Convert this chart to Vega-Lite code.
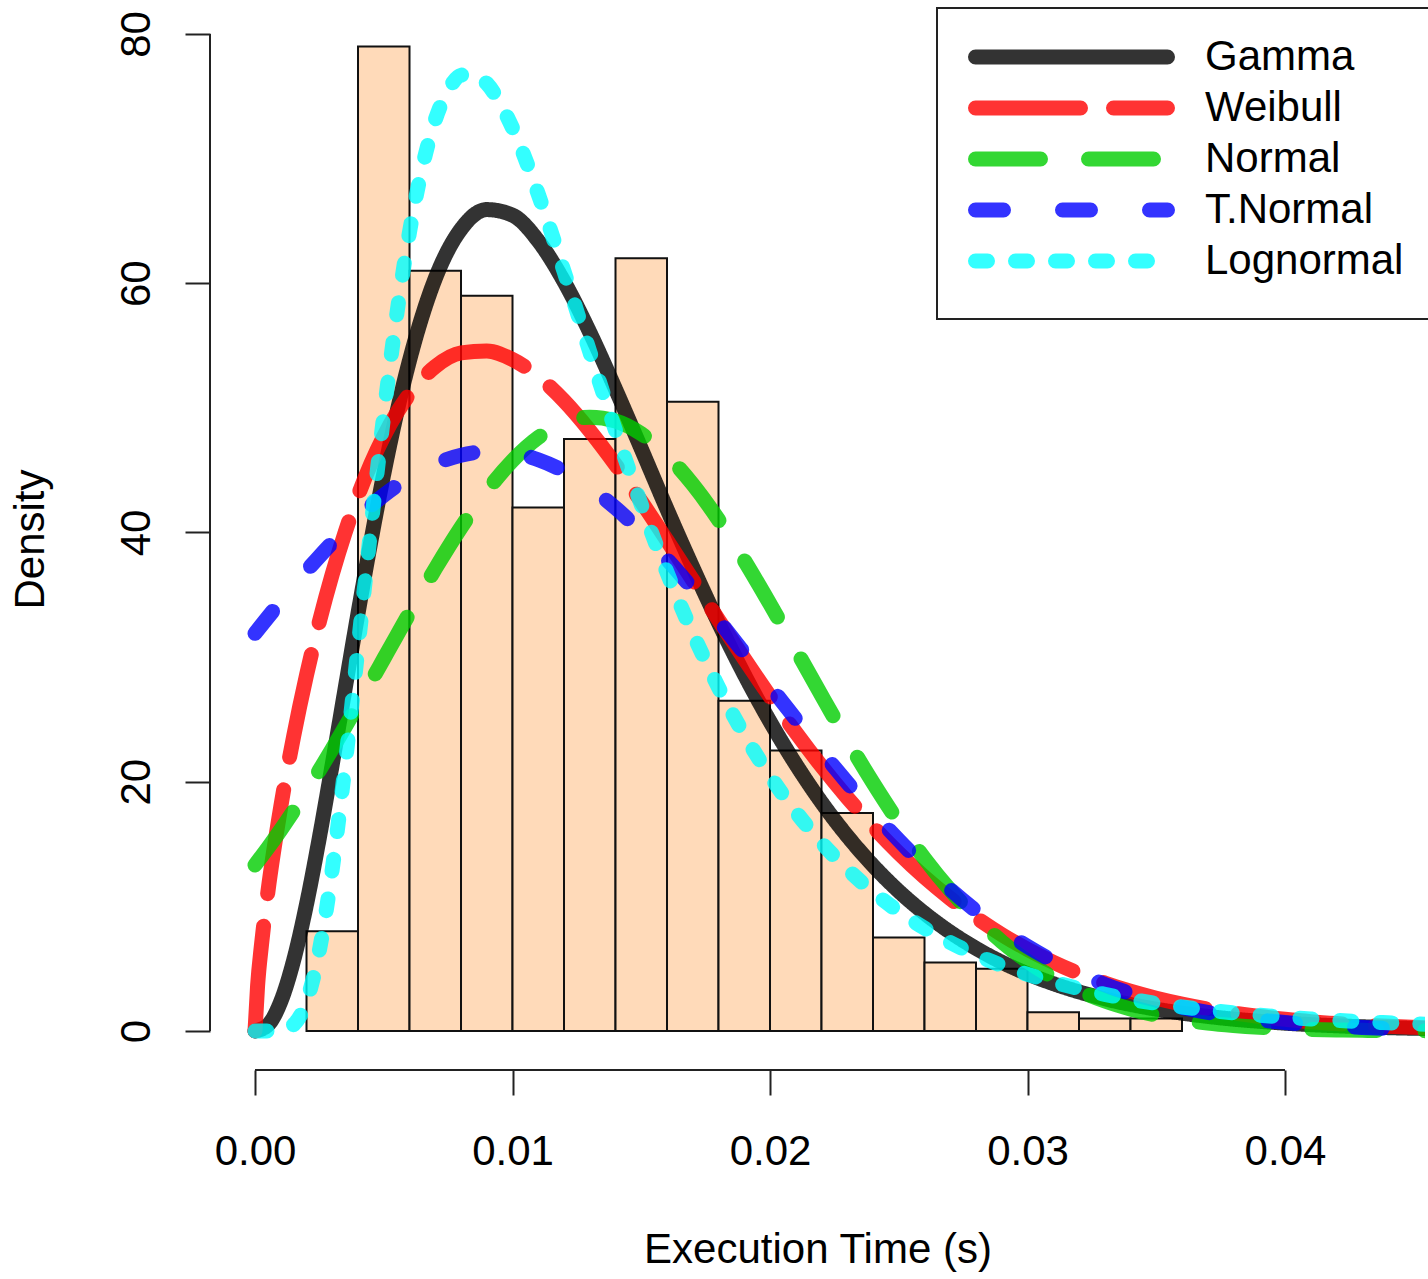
{
  "$schema": "https://vega.github.io/schema/vega-lite/v6.json",
  "width": 1215,
  "height": 1063,
  "autosize": {"type": "none"},
  "padding": {"left": 210, "top": 7, "right": 3, "bottom": 209},
  "background": "#ffffff",
  "config": {
    "view": {"stroke": null},
    "font": "Liberation Sans",
    "axis": {"grid": false, "domain": false, "ticks": true, "tickColor": "#222222", "tickWidth": 2, "tickSize": 25, "labelColor": "#000000", "titleColor": "#000000", "labelFontSize": 42, "titleFontSize": 42, "labelFont": "Liberation Sans", "titleFont": "Liberation Sans", "titleFontWeight": "normal", "labelFlush": false, "labelOverlap": false, "labelBound": false},
    "axisX": {"labelPadding": 69, "labelBaseline": "alphabetic", "labelAlign": "center", "labelAngle": 0, "titleY": 192, "titleBaseline": "alphabetic"},
    "axisY": {"labelAngle": 270, "labelAlign": "center", "labelBaseline": "alphabetic", "labelPadding": 36, "titleAngle": 270, "titleX": -167, "titleY": 532, "titleAlign": "center", "titleBaseline": "alphabetic"}
  },
  "datasets": {
    "hist": [
      {"start": 0.002, "end": 0.004, "density": 8},
      {"start": 0.004, "end": 0.006, "density": 79},
      {"start": 0.006, "end": 0.008, "density": 61},
      {"start": 0.008, "end": 0.010, "density": 59},
      {"start": 0.010, "end": 0.012, "density": 42},
      {"start": 0.012, "end": 0.014, "density": 47.5},
      {"start": 0.014, "end": 0.016, "density": 62},
      {"start": 0.016, "end": 0.018, "density": 50.5},
      {"start": 0.018, "end": 0.020, "density": 26.5},
      {"start": 0.020, "end": 0.022, "density": 22.5},
      {"start": 0.022, "end": 0.024, "density": 17.5},
      {"start": 0.024, "end": 0.026, "density": 7.5},
      {"start": 0.026, "end": 0.028, "density": 5.5},
      {"start": 0.028, "end": 0.030, "density": 5},
      {"start": 0.030, "end": 0.032, "density": 1.5},
      {"start": 0.032, "end": 0.034, "density": 1},
      {"start": 0.034, "end": 0.036, "density": 1}
    ],
    "fits": [
      {"d": "Gamma", "x": 0, "density": 0},
      {"d": "Gamma", "x": 0.0005, "density": 0.48},
      {"d": "Gamma", "x": 0.001, "density": 2.36},
      {"d": "Gamma", "x": 0.0015, "density": 5.67},
      {"d": "Gamma", "x": 0.002, "density": 10.17},
      {"d": "Gamma", "x": 0.0025, "density": 15.53},
      {"d": "Gamma", "x": 0.003, "density": 21.4},
      {"d": "Gamma", "x": 0.0035, "density": 27.48},
      {"d": "Gamma", "x": 0.004, "density": 33.52},
      {"d": "Gamma", "x": 0.0045, "density": 39.3},
      {"d": "Gamma", "x": 0.005, "density": 44.7},
      {"d": "Gamma", "x": 0.0055, "density": 49.56},
      {"d": "Gamma", "x": 0.006, "density": 53.81},
      {"d": "Gamma", "x": 0.007, "density": 60.38},
      {"d": "Gamma", "x": 0.008, "density": 64.34},
      {"d": "Gamma", "x": 0.009, "density": 65.91},
      {"d": "Gamma", "x": 0.010, "density": 65.46},
      {"d": "Gamma", "x": 0.011, "density": 63.4},
      {"d": "Gamma", "x": 0.012, "density": 60.14},
      {"d": "Gamma", "x": 0.013, "density": 56.07},
      {"d": "Gamma", "x": 0.014, "density": 51.5},
      {"d": "Gamma", "x": 0.015, "density": 46.72},
      {"d": "Gamma", "x": 0.016, "density": 41.87},
      {"d": "Gamma", "x": 0.017, "density": 37.2},
      {"d": "Gamma", "x": 0.018, "density": 32.75},
      {"d": "Gamma", "x": 0.019, "density": 28.61},
      {"d": "Gamma", "x": 0.020, "density": 24.83},
      {"d": "Gamma", "x": 0.021, "density": 21.41},
      {"d": "Gamma", "x": 0.022, "density": 18.35},
      {"d": "Gamma", "x": 0.023, "density": 15.65},
      {"d": "Gamma", "x": 0.024, "density": 13.28},
      {"d": "Gamma", "x": 0.025, "density": 11.22},
      {"d": "Gamma", "x": 0.026, "density": 9.45},
      {"d": "Gamma", "x": 0.027, "density": 7.93},
      {"d": "Gamma", "x": 0.028, "density": 6.63},
      {"d": "Gamma", "x": 0.029, "density": 5.52},
      {"d": "Gamma", "x": 0.030, "density": 4.59},
      {"d": "Gamma", "x": 0.031, "density": 3.8},
      {"d": "Gamma", "x": 0.032, "density": 3.14},
      {"d": "Gamma", "x": 0.033, "density": 2.59},
      {"d": "Gamma", "x": 0.034, "density": 2.13},
      {"d": "Gamma", "x": 0.035, "density": 1.75},
      {"d": "Gamma", "x": 0.036, "density": 1.43},
      {"d": "Gamma", "x": 0.037, "density": 1.17},
      {"d": "Gamma", "x": 0.038, "density": 0.95},
      {"d": "Gamma", "x": 0.039, "density": 0.78},
      {"d": "Gamma", "x": 0.040, "density": 0.63},
      {"d": "Gamma", "x": 0.041, "density": 0.51},
      {"d": "Gamma", "x": 0.042, "density": 0.42},
      {"d": "Gamma", "x": 0.043, "density": 0.34},
      {"d": "Gamma", "x": 0.044, "density": 0.27},
      {"d": "Gamma", "x": 0.045, "density": 0.22},
      {"d": "Gamma", "x": 0.046, "density": 0.18},
      {"d": "Weibull", "x": 0, "density": 0},
      {"d": "Weibull", "x": 0.0001, "density": 3.63},
      {"d": "Weibull", "x": 0.00025, "density": 6.89},
      {"d": "Weibull", "x": 0.0005, "density": 11.16},
      {"d": "Weibull", "x": 0.001, "density": 17.99},
      {"d": "Weibull", "x": 0.0015, "density": 23.64},
      {"d": "Weibull", "x": 0.002, "density": 28.55},
      {"d": "Weibull", "x": 0.0025, "density": 32.85},
      {"d": "Weibull", "x": 0.003, "density": 36.66},
      {"d": "Weibull", "x": 0.0035, "density": 40.01},
      {"d": "Weibull", "x": 0.004, "density": 42.95},
      {"d": "Weibull", "x": 0.0045, "density": 45.52},
      {"d": "Weibull", "x": 0.005, "density": 47.72},
      {"d": "Weibull", "x": 0.0055, "density": 49.58},
      {"d": "Weibull", "x": 0.006, "density": 51.12},
      {"d": "Weibull", "x": 0.007, "density": 53.31},
      {"d": "Weibull", "x": 0.008, "density": 54.41},
      {"d": "Weibull", "x": 0.009, "density": 54.56},
      {"d": "Weibull", "x": 0.010, "density": 53.88},
      {"d": "Weibull", "x": 0.011, "density": 52.51},
      {"d": "Weibull", "x": 0.012, "density": 50.57},
      {"d": "Weibull", "x": 0.013, "density": 48.17},
      {"d": "Weibull", "x": 0.014, "density": 45.45},
      {"d": "Weibull", "x": 0.015, "density": 42.48},
      {"d": "Weibull", "x": 0.016, "density": 39.36},
      {"d": "Weibull", "x": 0.017, "density": 36.18},
      {"d": "Weibull", "x": 0.018, "density": 32.99},
      {"d": "Weibull", "x": 0.019, "density": 29.87},
      {"d": "Weibull", "x": 0.020, "density": 26.84},
      {"d": "Weibull", "x": 0.021, "density": 23.96},
      {"d": "Weibull", "x": 0.022, "density": 21.25},
      {"d": "Weibull", "x": 0.023, "density": 18.73},
      {"d": "Weibull", "x": 0.024, "density": 16.4},
      {"d": "Weibull", "x": 0.025, "density": 14.27},
      {"d": "Weibull", "x": 0.026, "density": 12.34},
      {"d": "Weibull", "x": 0.027, "density": 10.63},
      {"d": "Weibull", "x": 0.028, "density": 9.1},
      {"d": "Weibull", "x": 0.029, "density": 7.74},
      {"d": "Weibull", "x": 0.030, "density": 6.55},
      {"d": "Weibull", "x": 0.031, "density": 5.52},
      {"d": "Weibull", "x": 0.032, "density": 4.62},
      {"d": "Weibull", "x": 0.033, "density": 3.85},
      {"d": "Weibull", "x": 0.034, "density": 3.19},
      {"d": "Weibull", "x": 0.035, "density": 2.63},
      {"d": "Weibull", "x": 0.036, "density": 2.16},
      {"d": "Weibull", "x": 0.037, "density": 1.76},
      {"d": "Weibull", "x": 0.038, "density": 1.44},
      {"d": "Weibull", "x": 0.039, "density": 1.16},
      {"d": "Weibull", "x": 0.040, "density": 0.94},
      {"d": "Weibull", "x": 0.041, "density": 0.75},
      {"d": "Weibull", "x": 0.042, "density": 0.6},
      {"d": "Weibull", "x": 0.043, "density": 0.48},
      {"d": "Weibull", "x": 0.044, "density": 0.38},
      {"d": "Weibull", "x": 0.045, "density": 0.3},
      {"d": "Weibull", "x": 0.046, "density": 0.23},
      {"d": "Normal", "x": 0, "density": 13.32},
      {"d": "Normal", "x": 0.0005, "density": 14.69},
      {"d": "Normal", "x": 0.001, "density": 16.14},
      {"d": "Normal", "x": 0.0015, "density": 17.66},
      {"d": "Normal", "x": 0.002, "density": 19.26},
      {"d": "Normal", "x": 0.0025, "density": 20.92},
      {"d": "Normal", "x": 0.003, "density": 22.64},
      {"d": "Normal", "x": 0.0035, "density": 24.4},
      {"d": "Normal", "x": 0.004, "density": 26.2},
      {"d": "Normal", "x": 0.0045, "density": 28.03},
      {"d": "Normal", "x": 0.005, "density": 29.87},
      {"d": "Normal", "x": 0.0055, "density": 31.71},
      {"d": "Normal", "x": 0.006, "density": 33.54},
      {"d": "Normal", "x": 0.007, "density": 37.09},
      {"d": "Normal", "x": 0.008, "density": 40.4},
      {"d": "Normal", "x": 0.009, "density": 43.33},
      {"d": "Normal", "x": 0.010, "density": 45.77},
      {"d": "Normal", "x": 0.011, "density": 47.62},
      {"d": "Normal", "x": 0.012, "density": 48.8},
      {"d": "Normal", "x": 0.013, "density": 49.25},
      {"d": "Normal", "x": 0.014, "density": 48.95},
      {"d": "Normal", "x": 0.015, "density": 47.92},
      {"d": "Normal", "x": 0.016, "density": 46.19},
      {"d": "Normal", "x": 0.017, "density": 43.86},
      {"d": "Normal", "x": 0.018, "density": 41.02},
      {"d": "Normal", "x": 0.019, "density": 37.77},
      {"d": "Normal", "x": 0.020, "density": 34.26},
      {"d": "Normal", "x": 0.021, "density": 30.61},
      {"d": "Normal", "x": 0.022, "density": 26.93},
      {"d": "Normal", "x": 0.023, "density": 23.33},
      {"d": "Normal", "x": 0.024, "density": 19.92},
      {"d": "Normal", "x": 0.025, "density": 16.74},
      {"d": "Normal", "x": 0.026, "density": 13.85},
      {"d": "Normal", "x": 0.027, "density": 11.3},
      {"d": "Normal", "x": 0.028, "density": 9.07},
      {"d": "Normal", "x": 0.029, "density": 7.17},
      {"d": "Normal", "x": 0.030, "density": 5.59},
      {"d": "Normal", "x": 0.031, "density": 4.28},
      {"d": "Normal", "x": 0.032, "density": 3.24},
      {"d": "Normal", "x": 0.033, "density": 2.41},
      {"d": "Normal", "x": 0.034, "density": 1.77},
      {"d": "Normal", "x": 0.035, "density": 1.27},
      {"d": "Normal", "x": 0.036, "density": 0.91},
      {"d": "Normal", "x": 0.037, "density": 0.63},
      {"d": "Normal", "x": 0.038, "density": 0.44},
      {"d": "Normal", "x": 0.039, "density": 0.3},
      {"d": "Normal", "x": 0.040, "density": 0.2},
      {"d": "Normal", "x": 0.041, "density": 0.13},
      {"d": "Normal", "x": 0.042, "density": 0.085},
      {"d": "Normal", "x": 0.043, "density": 0.054},
      {"d": "Normal", "x": 0.044, "density": 0.034},
      {"d": "Normal", "x": 0.045, "density": 0.021},
      {"d": "Normal", "x": 0.046, "density": 0.013},
      {"d": "T.Normal", "x": 0, "density": 31.91},
      {"d": "T.Normal", "x": 0.0005, "density": 33.2},
      {"d": "T.Normal", "x": 0.001, "density": 34.48},
      {"d": "T.Normal", "x": 0.0015, "density": 35.72},
      {"d": "T.Normal", "x": 0.002, "density": 36.92},
      {"d": "T.Normal", "x": 0.0025, "density": 38.08},
      {"d": "T.Normal", "x": 0.003, "density": 39.19},
      {"d": "T.Normal", "x": 0.0035, "density": 40.24},
      {"d": "T.Normal", "x": 0.004, "density": 41.23},
      {"d": "T.Normal", "x": 0.0045, "density": 42.15},
      {"d": "T.Normal", "x": 0.005, "density": 42.99},
      {"d": "T.Normal", "x": 0.0055, "density": 43.75},
      {"d": "T.Normal", "x": 0.006, "density": 44.43},
      {"d": "T.Normal", "x": 0.007, "density": 45.51},
      {"d": "T.Normal", "x": 0.008, "density": 46.2},
      {"d": "T.Normal", "x": 0.009, "density": 46.49},
      {"d": "T.Normal", "x": 0.010, "density": 46.37},
      {"d": "T.Normal", "x": 0.011, "density": 45.84},
      {"d": "T.Normal", "x": 0.012, "density": 44.91},
      {"d": "T.Normal", "x": 0.013, "density": 43.61},
      {"d": "T.Normal", "x": 0.014, "density": 41.97},
      {"d": "T.Normal", "x": 0.015, "density": 40.04},
      {"d": "T.Normal", "x": 0.016, "density": 37.85},
      {"d": "T.Normal", "x": 0.017, "density": 35.47},
      {"d": "T.Normal", "x": 0.018, "density": 32.95},
      {"d": "T.Normal", "x": 0.019, "density": 30.33},
      {"d": "T.Normal", "x": 0.020, "density": 27.67},
      {"d": "T.Normal", "x": 0.021, "density": 25.03},
      {"d": "T.Normal", "x": 0.022, "density": 22.43},
      {"d": "T.Normal", "x": 0.023, "density": 19.93},
      {"d": "T.Normal", "x": 0.024, "density": 17.54},
      {"d": "T.Normal", "x": 0.025, "density": 15.31},
      {"d": "T.Normal", "x": 0.026, "density": 13.24},
      {"d": "T.Normal", "x": 0.027, "density": 11.36},
      {"d": "T.Normal", "x": 0.028, "density": 9.65},
      {"d": "T.Normal", "x": 0.029, "density": 8.12},
      {"d": "T.Normal", "x": 0.030, "density": 6.78},
      {"d": "T.Normal", "x": 0.031, "density": 5.61},
      {"d": "T.Normal", "x": 0.032, "density": 4.6},
      {"d": "T.Normal", "x": 0.033, "density": 3.74},
      {"d": "T.Normal", "x": 0.034, "density": 3.01},
      {"d": "T.Normal", "x": 0.035, "density": 2.4},
      {"d": "T.Normal", "x": 0.036, "density": 1.9},
      {"d": "T.Normal", "x": 0.037, "density": 1.49},
      {"d": "T.Normal", "x": 0.038, "density": 1.16},
      {"d": "T.Normal", "x": 0.039, "density": 0.89},
      {"d": "T.Normal", "x": 0.040, "density": 0.68},
      {"d": "T.Normal", "x": 0.041, "density": 0.52},
      {"d": "T.Normal", "x": 0.042, "density": 0.39},
      {"d": "T.Normal", "x": 0.043, "density": 0.29},
      {"d": "T.Normal", "x": 0.044, "density": 0.21},
      {"d": "T.Normal", "x": 0.045, "density": 0.16},
      {"d": "T.Normal", "x": 0.046, "density": 0.11},
      {"d": "Lognormal", "x": 0, "density": 0},
      {"d": "Lognormal", "x": 0.0005, "density": 0},
      {"d": "Lognormal", "x": 0.001, "density": 0.035},
      {"d": "Lognormal", "x": 0.0015, "density": 0.51},
      {"d": "Lognormal", "x": 0.002, "density": 2.38},
      {"d": "Lognormal", "x": 0.0025, "density": 6.48},
      {"d": "Lognormal", "x": 0.003, "density": 12.98},
      {"d": "Lognormal", "x": 0.0035, "density": 21.35},
      {"d": "Lognormal", "x": 0.004, "density": 30.75},
      {"d": "Lognormal", "x": 0.0045, "density": 40.34},
      {"d": "Lognormal", "x": 0.005, "density": 49.41},
      {"d": "Lognormal", "x": 0.0055, "density": 57.42},
      {"d": "Lognormal", "x": 0.006, "density": 64.1},
      {"d": "Lognormal", "x": 0.0065, "density": 69.32},
      {"d": "Lognormal", "x": 0.007, "density": 73.11},
      {"d": "Lognormal", "x": 0.0075, "density": 75.49},
      {"d": "Lognormal", "x": 0.008, "density": 76.69},
      {"d": "Lognormal", "x": 0.0085, "density": 76.8},
      {"d": "Lognormal", "x": 0.009, "density": 76.03},
      {"d": "Lognormal", "x": 0.010, "density": 72.46},
      {"d": "Lognormal", "x": 0.011, "density": 67.15},
      {"d": "Lognormal", "x": 0.012, "density": 60.96},
      {"d": "Lognormal", "x": 0.013, "density": 54.5},
      {"d": "Lognormal", "x": 0.014, "density": 48.18},
      {"d": "Lognormal", "x": 0.015, "density": 42.24},
      {"d": "Lognormal", "x": 0.016, "density": 36.8},
      {"d": "Lognormal", "x": 0.017, "density": 31.91},
      {"d": "Lognormal", "x": 0.018, "density": 27.58},
      {"d": "Lognormal", "x": 0.019, "density": 23.77},
      {"d": "Lognormal", "x": 0.020, "density": 20.46},
      {"d": "Lognormal", "x": 0.021, "density": 17.59},
      {"d": "Lognormal", "x": 0.022, "density": 15.11},
      {"d": "Lognormal", "x": 0.023, "density": 12.99},
      {"d": "Lognormal", "x": 0.024, "density": 11.16},
      {"d": "Lognormal", "x": 0.025, "density": 9.59},
      {"d": "Lognormal", "x": 0.026, "density": 8.25},
      {"d": "Lognormal", "x": 0.027, "density": 7.1},
      {"d": "Lognormal", "x": 0.028, "density": 6.11},
      {"d": "Lognormal", "x": 0.029, "density": 5.27},
      {"d": "Lognormal", "x": 0.030, "density": 4.55},
      {"d": "Lognormal", "x": 0.031, "density": 3.93},
      {"d": "Lognormal", "x": 0.032, "density": 3.4},
      {"d": "Lognormal", "x": 0.033, "density": 2.94},
      {"d": "Lognormal", "x": 0.034, "density": 2.55},
      {"d": "Lognormal", "x": 0.035, "density": 2.22},
      {"d": "Lognormal", "x": 0.036, "density": 1.93},
      {"d": "Lognormal", "x": 0.037, "density": 1.68},
      {"d": "Lognormal", "x": 0.038, "density": 1.46},
      {"d": "Lognormal", "x": 0.039, "density": 1.27},
      {"d": "Lognormal", "x": 0.040, "density": 1.11},
      {"d": "Lognormal", "x": 0.041, "density": 0.97},
      {"d": "Lognormal", "x": 0.042, "density": 0.85},
      {"d": "Lognormal", "x": 0.043, "density": 0.75},
      {"d": "Lognormal", "x": 0.044, "density": 0.66},
      {"d": "Lognormal", "x": 0.045, "density": 0.58},
      {"d": "Lognormal", "x": 0.046, "density": 0.51}
    ]
  },
  "layer": [
    {
      "data": {"name": "hist"},
      "mark": {"type": "rect", "fill": "#FFDAB9", "stroke": "#111111", "strokeWidth": 2},
      "encoding": {
        "x": {"field": "start", "type": "quantitative", "scale": {"domain": [-0.001748, 0.045437], "nice": false, "zero": false}, "axis": {"title": "Execution Time (s)", "values": [0, 0.01, 0.02, 0.03, 0.04], "format": ".2f"}},
        "x2": {"field": "end"},
        "y": {"field": "density", "type": "quantitative", "scale": {"domain": [-3.129, 82.166], "nice": false, "zero": false}, "axis": {"title": "Density", "values": [0, 20, 40, 60, 80], "format": "d"}},
        "y2": {"datum": 0}
      }
    },
    {
      "data": {"name": "fits"},
      "mark": {"type": "line", "strokeWidth": 15, "strokeCap": "round", "strokeJoin": "round", "interpolate": "monotone", "clip": true},
      "encoding": {
        "x": {"field": "x", "type": "quantitative", "axis": {"title": "Execution Time (s)", "values": [0, 0.01, 0.02, 0.03, 0.04], "format": ".2f"}},
        "y": {"field": "density", "type": "quantitative", "axis": {"title": "Density", "values": [0, 20, 40, 60, 80], "format": "d"}},
        "color": {
          "field": "d", "type": "nominal",
          "scale": {"domain": ["Gamma", "Weibull", "Normal", "T.Normal", "Lognormal"], "range": ["rgba(0,0,0,0.8)", "rgba(255,0,0,0.8)", "rgba(0,205,0,0.8)", "rgba(0,0,255,0.8)", "rgba(0,255,255,0.8)"]},
          "legend": {"title": null, "orient": "none", "legendX": 727, "legendY": 1, "direction": "vertical", "padding": 28, "strokeColor": "#222222", "fillColor": "#ffffff", "symbolType": "M-8,0H8", "symbolSize": 576, "symbolStrokeWidth": 15, "symbolOffset": 85.5, "labelOffset": 112.5, "labelFontSize": 42, "labelFont": "Liberation Sans", "labelColor": "#000000", "labelLimit": 600, "labelBaseline": "middle", "rowPadding": -9, "encode": {"symbols": {"update": {"strokeCap": {"value": "round"}}}, "legend": {"update": {"strokeWidth": {"value": 2}}}}}
        },
        "strokeDash": {
          "field": "d", "type": "nominal",
          "scale": {"domain": ["Gamma", "Weibull", "Normal", "T.Normal", "Lognormal"], "range": [[1, 0], [105, 33], [65, 48], [28, 59], [12, 28]]},
          "legend": {"title": null, "orient": "none", "legendX": 727, "legendY": 1, "direction": "vertical", "padding": 28, "strokeColor": "#222222", "fillColor": "#ffffff", "symbolType": "M-8,0H8", "symbolSize": 576, "symbolStrokeWidth": 15, "symbolOffset": 85.5, "labelOffset": 112.5, "labelFontSize": 42, "labelFont": "Liberation Sans", "labelColor": "#000000", "labelLimit": 600, "labelBaseline": "middle", "rowPadding": -9, "encode": {"symbols": {"update": {"strokeCap": {"value": "round"}}}, "legend": {"update": {"strokeWidth": {"value": 2}}}}}
        }
      }
    },
    {
      "data": {"values": [{}]},
      "mark": {"type": "rule", "stroke": "#222222", "strokeWidth": 2},
      "encoding": {
        "x": {"datum": 0, "type": "quantitative"},
        "x2": {"datum": 0.04},
        "y": {"datum": -3.129, "type": "quantitative"}
      }
    },
    {
      "data": {"values": [{}]},
      "mark": {"type": "rule", "stroke": "#222222", "strokeWidth": 2},
      "encoding": {
        "x": {"datum": -0.001748, "type": "quantitative"},
        "y": {"datum": 0, "type": "quantitative"},
        "y2": {"datum": 80}
      }
    }
  ]
}
